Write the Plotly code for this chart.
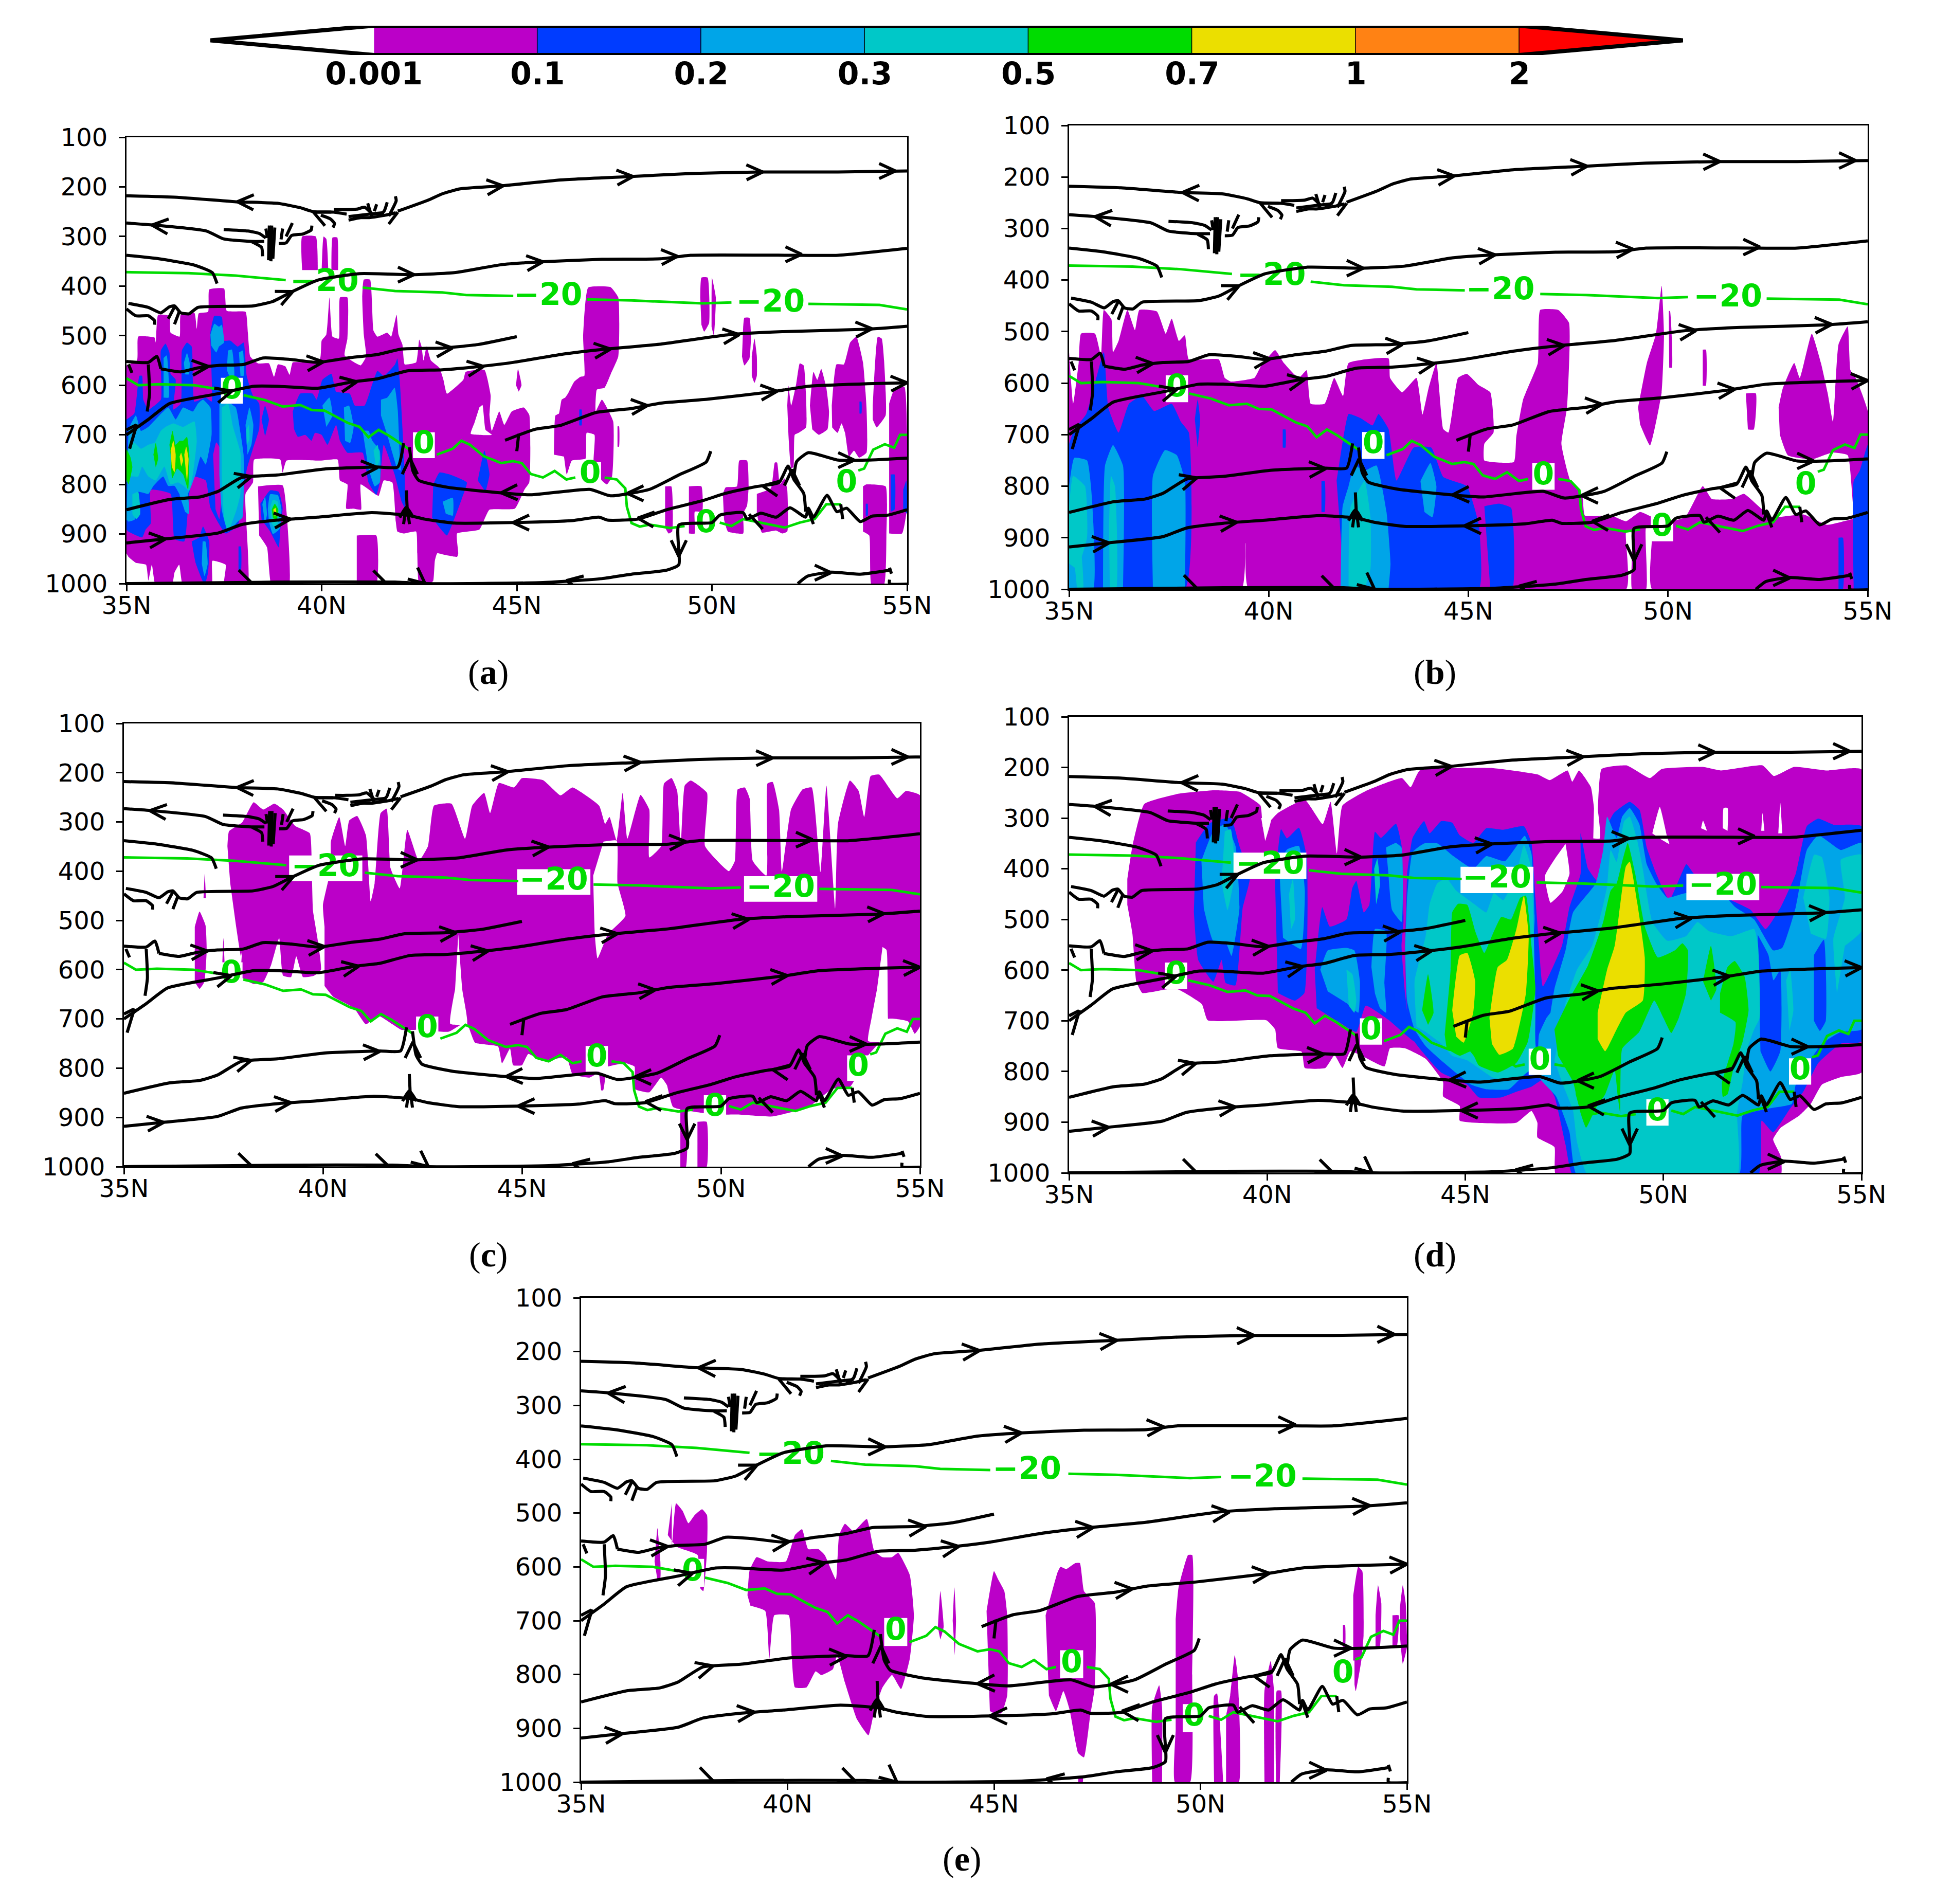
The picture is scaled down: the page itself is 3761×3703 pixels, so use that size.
import math
import plotly.graph_objects as go

# ---------- classes and colour bar ----------
LEVELS = ["0.001", "0.1", "0.2", "0.3", "0.5", "0.7", "1", "2"]
COLORS = ["#BB00C8", "#003CFF", "#00A5E8", "#00C8C8", "#00DC00", "#EBDF00", "#FF8214", "#FF0000"]
LAT_TICKS = [35, 40, 45, 50, 55]
LAT_TEXT = ["35N", "40N", "45N", "50N", "55N"]
P_TICKS = [100, 200, 300, 400, 500, 600, 700, 800, 900, 1000]

# ---------- streamlines (lat, hPa), same in all panels ----------
STREAM = [
 [(41.95,249),(42.72,227),(43.09,214),(43.55,204),(44.6,198),(46.12,186),(47.94,179),(49.45,173),(51.26,170),(53.23,170),(55,168)],
 [(35,218),(36.3,221),(37.8,230),(38.86,233),(39.45,242),(39.79,250),(40.31,251),(40.64,255)],
 [(35,273),(35.7,277),(37.05,289),(37.49,305),(38.2,310),(38.53,310)],
 [(37.49,286),(38.11,289),(38.4,294),(38.57,303)],
 [(38.9,314),(39.09,313),(39.23,298),(39.52,295),(39.73,287),(39.75,278)],
 [(38.64,348),(38.66,278)],[(38.7,350),(38.72,278)],[(38.75,345),(38.8,282)],[(38.49,340),(38.46,322),(38.22,311)],
 [(38.57,284),(38.61,303)],[(39.0,284),(38.96,306)],[(39.25,273),(39.09,300)],
 [(40.31,246),(40.6,246),(40.9,245),(41.1,241),(41.3,255)],
 [(40.69,267),(41.0,262),(41.22,262),(41.64,257),(41.9,252)],[(40.69,260),(41.22,255),(41.6,252)],
 [(41.18,233),(41.29,262)],[(41.41,235),(41.35,249)],[(41.68,231),(41.6,249),(41.43,259)],[(41.89,219),(41.91,228),(41.72,259)],[(41.72,275),(41.95,251)],
 [(39.98,257),(40.23,265),(40.33,274),(40.29,282)],
 [(35,338),(35.83,345),(36.75,358),(37.2,373),(37.32,395)],
 [(35.05,435),(35.56,443),(35.88,454),(36.1,442),(36.23,440),(36.39,454),(36.6,456),(36.83,443),(38.24,440),(38.75,431),(39.2,413),(39.9,388),(40.97,375),(42.34,377),(43.4,373),(44.6,357),(45.67,351),(47.18,346),(48.69,345),(49.45,338),(52.2,338),(53.23,338),(55,324)],
 [(35,446),(35.24,460),(35.56,460),(35.72,470),(35.72,478)],
 [(36.07,466),(36.23,442)],[(36.23,477),(36.36,450)],
 [(35.88,567),(36.39,573),(36.83,565),(37.35,560),(38.0,558),(38.5,545),(39.2,548),(39.9,554),(40.67,545),(41.43,538),(42.05,527),(43.09,525),(44.0,518),(45.0,502)],
 [(35,552),(35.56,554),(35.78,542),(35.88,567)],[(35.56,558),(35.59,617),(35.53,653)],[(35.05,558),(35.14,575)],
 [(35,700),(35.56,669),(36.1,637),(37.35,617),(38.26,602),(38.86,602),(39.9,606),(40.8,593),(41.43,587),(42.2,571),(43.09,569),(44.07,562),(44.9,554),(46.12,538),(47.18,528),(48.69,517),(50.45,498),(51.8,492),(53.99,487),(55,481)],
 [(35.08,728),(35.2,696),(35.27,679)],[(35,690),(35.25,680)],
 [(44.7,711),(45.46,689),(46.12,681),(47.03,655),(47.94,647),(48.69,636),(49.9,628),(51.56,613),(52.47,602),(53.99,597),(55,595)],
 [(45.0,733),(45.05,698)],
 [(35,851),(36.13,830),(36.9,825),(37.35,814),(37.95,786),(38.86,781),(40.07,769),(41.43,765),(41.95,765),(42.1,717)],
 [(42.25,725),(42.34,773),(42.49,792),(43.24,806),(44.6,817),(45.36,821),(46.87,810),(47.4,823),(48.4,810),(49.15,781),(49.85,755),(49.97,733)],
 [(35,918),(35.98,910),(37.35,898),(37.95,881),(38.86,872),(39.9,866),(41.28,857),(42.2,862),(42.64,870),(43.4,878),(44.9,877),(46.42,873),(47.1,866),(47.33,872),(48.1,870),(48.84,851),(49.75,833),(50.35,818),(51.1,805),(51.72,796),(51.95,763),(52.1,790),(52.35,818),(52.4,855)],
 [(42.17,812),(42.2,864)],[(42.0,867),(42.17,846),(42.35,867)],[(42.1,880),(42.15,850)],[(42.25,880),(42.2,850)],
 [(55,747),(53.99,751),(53.23,751),(52.47,736),(52.17,754),(52.1,785)],
 [(35,1000),(38.86,997),(41.88,997),(42.64,1000),(45.67,998),(47.18,990),(47.94,981),(48.84,973),(49.15,962),(49.15,882),(50.0,877),(50.2,862),(50.8,857),(50.9,870),(51.25,858),(51.65,866),(52.0,847),(52.4,866),(52.47,848),(52.6,866),(52.95,822),(53.2,855),(53.45,848),(53.8,875),(54.1,864),(54.5,862),(55,851)],
 [(52.2,1000),(52.45,985),(53.05,977),(53.8,981),(54.55,973)],
 [(54.55,968),(54.6,980)],[(54.55,992),(54.55,1000),(55,1001)],
 [(50.95,860),(51.3,890)],[(53.3,840),(53.35,870)],[(52.45,848),(52.6,880)],
]
# arrow tips: lat, hPa, heading in degrees on the page (0 = east, 90 = up)
ARROWS = [
 (44.65,198,5),(47.98,179,4),(51.3,170,1),(54.7,168,0),(37.84,230,178),(39.79,251,155),(35.65,277,175),
 (39.26,411,25),(42.37,377,0),(45.67,351,5),(49.12,340,3),(52.3,336,0),
 (37.1,562,5),(40.04,553,5),(43.35,525,5),
 (37.7,612,15),(40.9,593,10),(44.15,562,8),(47.4,527,6),(50.7,498,6),(54.1,486,3),
 (48.35,641,5),(51.67,612,5),(55,595,3),(38.2,784,15),(41.43,766,3),
 (44.6,817,182),(47.83,818,180),(42.26,747,90),
 (36.0,910,5),(39.2,870,5),(44.9,877,180),(48.1,868,175),(51.3,803,170),(52.05,770,90),
 (53.65,751,0),(38.2,998,-20),(41.65,999,-20),(42.65,1000,-40),(46.27,994,170),(49.15,945,-90),(53.05,978,0),
]
# isotherms
ISO_M20 = [
 [(35,372),(36.59,374),(37.8,379),(39.08,388)],
 [(41.05,403),(41.88,410),(43.09,413),(43.7,418),(44.91,420)],
 [(46.8,427),(47.94,429),(49.75,435),(50.5,433)],
 [(52.47,436),(54.29,438),(55,447)],
]
ISO_0 = [
 [(35,586),(35.3,600),(35.83,598),(36.74,600),(37.35,608)],
 [(38.0,620),(38.55,630),(39.0,643),(39.45,640),(39.75,650),(40.07,651),(40.67,676),(40.97,684),(41.2,705),(41.46,690),(41.73,702),(42.26,730)],
 [(42.95,740),(43.36,728),(43.58,712),(43.8,720),(44.15,743),(44.6,757),(44.9,753),(45.13,757),(45.36,779),(45.67,786),(45.97,773),(46.27,790),(46.5,786)],
 [(47.25,786),(47.56,790),(47.78,808),(47.82,845),(47.94,878),(48.15,885),(48.4,881),(48.93,888),(49.3,884)],
 [(50.2,877),(50.5,884),(50.8,870),(51.26,877),(51.87,887),(52.25,877),(52.63,870),(52.93,840),(53.3,840)],
 [(53.75,772),(53.9,768),(54.13,730),(54.43,719),(54.67,726),(54.82,700),(55,700)],
]
LABEL_M20 = [(40.07,394),(45.8,422),(51.5,436)]
LABEL_0 = [(37.7,611),(42.62,721),(46.88,781),(49.85,881),(53.45,800)]

# ---------- filled regions per panel: polygons (lat, hPa), one list per class ----------
a_c1 = [
 [(35,560),(35.27,550),(35.3,502),(35.72,504),(35.75,514),(35.81,458),(36.1,460),(36.13,494),(36.36,502),(36.39,458),(36.74,454),(36.8,486),(36.85,455),(37.09,452),(37.12,407),(37.5,405),(37.57,450),(38.05,452),(38.11,494),(38.17,542),(38.37,556),(38.65,556),(38.78,583),(38.88,558),(39.07,562),(39.18,579),(39.26,554),(39.64,554),(39.96,546),(40,510),(40.12,498),(40.2,423),(40.28,502),(40.44,506),(40.47,423),(40.66,423),(40.66,506),(40.59,540),(41.0,560),(41.14,542),(41.08,498),(41.04,423),(41.08,387),(41.24,387),(41.33,490),(41.43,502),(41.68,494),(41.78,502),(41.92,458),(41.97,498),(42.07,518),(42.13,558),(42.42,554),(42.5,508),(42.56,522),(42.61,550),(42.69,522),(42.8,550),(43.02,565),(43.12,589),(43.21,617),(43.63,589),(43.69,573),(44.17,569),(44.33,621),(44.3,661),(44.36,692),(44.55,653),(44.68,680),(44.87,653),(45.18,645),(45.32,660),(45.32,796),(45.2,810),(44.95,849),(44.3,851),(44.04,891),(43.47,899),(43.5,939),(43.47,946),(43.15,942),(42.96,939),(42.9,954),(42.86,994),(42.76,1002),(42.5,1002),(42.45,939),(42.42,895),(42.1,899),(41.94,895),(41.9,875),(41.81,796),(41.59,792),(41.46,823),(41.36,819),(41,800),(41.01,851),(40.82,849),(40.63,849),(40.66,800),(40.47,792),(40.41,750),(39.96,752),(39.1,752),(39,776),(38.94,750),(38.27,750),(38.24,796),(38.05,819),(38.1,1005),(37.5,1005),(37.54,962),(37.2,954),(37.18,1005),(36.45,1005),(36.35,962),(36.23,978),(36.16,1005),(35.75,1005),(35.65,962),(35.56,994),(35.5,962),(35.24,958),(35.05,946),(35,939)],
 [(38.37,804),(39,802),(39.1,855),(39.16,1005),(38.72,1005),(38.6,927),(38.4,903)],
 [(40.9,903),(41.4,903),(41.4,1002),(40.9,1002)],
 [(39.5,368),(39.5,300),(39.85,300),(39.9,368)],[(40,368),(40.05,300),(40.12,305),(40.17,368)],[(40.25,368),(40.28,302),(40.4,302),(40.42,368)],
 [(45.95,740),(45.99,661),(46.08,657),(46.15,629),(46.24,625),(46.31,617),(46.47,593),(46.63,583),(46.73,581),(46.7,502),(46.83,403),(47.4,402),(47.6,423),(47.6,542),(47.41,577),(47.25,605),(47.05,609),(47.02,653),(47.18,629),(47.47,673),(47.44,784),(47.31,800),(47.18,792),(46.97,756),(46.99,700),(46.79,696),(46.76,748),(46.41,752),(46.28,780),(46.21,744)],
 [(44.98,600),(45.03,567),(45.12,600),(45.05,613)],[(47.58,683),(47.62,683),(47.62,724),(47.58,724)],
 [(49.7,423),(49.73,383),(49.89,383),(49.93,474),(49.8,492),(49.73,478)],[(49.99,423),(50,383),(50.1,423),(50.05,500),(49.99,482)],
 [(50.8,482),(50.83,464),(50.96,464),(51,502),(50.96,546),(50.83,560),(50.77,542)],
 [(51.02,542),(51.09,506),(51.15,542),(51.15,581),(51.09,595),(51.02,581)],
 [(51.93,641),(51.96,601),(52.03,641),(52.16,597),(52.25,556),(52.35,560),(52.41,621),(52.41,685),(52.22,696),(52.12,700),(52.09,764),(52.03,768),(51.96,700)],
 [(52.51,641),(52.6,573),(52.7,589),(52.8,567),(52.93,605),(53,653),(52.96,689),(52.74,700),(52.57,689)],
 [(53.07,641),(53.19,558),(53.38,558),(53.54,514),(53.7,502),(53.87,554),(53.96,645),(53.96,736),(53.77,746),(53.64,732),(53.51,744),(53.41,696),(53.32,677),(53.22,696),(53.08,685)],
 [(54.12,641),(54.25,502),(54.35,506),(54.41,550),(54.45,661),(54.22,685),(54.12,669)],
 [(54.54,637),(54.67,609),(54.93,603),(55,700),(55,847),(54.87,899),(54.54,899)],
 [(53.87,804),(53.96,800),(54.45,804),(54.47,899),(54.41,1002),(54.09,1002),(54.03,903),(53.87,895)],
 [(48.8,804),(48.96,804),(48.98,895),(48.89,899),(48.8,887)],
 [(49.41,804),(49.73,804),(49.75,855),(49.56,855),(49.56,899),(49.41,899)],
 [(50.28,819),(50.35,806),(50.64,804),(50.7,752),(50.9,752),(50.94,804),(50.9,843),(50.8,859),(50.8,899),(50.41,895),(50.31,871)],
 [(51.15,819),(51.51,808),(51.61,756),(51.67,756),(51.74,800),(51.86,788),(51.93,811),(51.93,895),(51.8,899),(51.64,893),(51.28,897),(51.15,859)],
]
a_white = [[(44.04,645),(44.12,640),(44.2,690),(44.36,700),(43.82,698),(43.91,677)]]
a_c2 = [
 [(35,669),(35.2,657),(35.33,581),(35.4,581),(35.43,629),(35.56,649),(35.88,629),(35.88,530),(36,516),(36.1,534),(36.13,577),(36.26,589),(36.2,649),(36.39,637),(36.42,530),(36.55,514),(36.67,522),(36.74,633),(37.03,625),(37.18,633),(37.15,494),(37.25,460),(37.44,462),(37.5,510),(37.66,510),(37.85,522),(38,514),(38.08,581),(38.24,621),(38.4,637),(38.4,688),(38.24,728),(38.08,770),(37.92,859),(37.85,883),(37.54,899),(37.15,847),(37.03,792),(36.7,784),(36.6,823),(36.48,915),(36.23,910),(36.13,819),(35.62,811),(35.62,879),(35.49,891),(35.4,907),(35.05,895),(35,891)],
 [(38.46,669),(38.55,641),(38.65,669),(38.55,703)],
 [(36.87,907),(36.96,885),(37.12,915),(37.09,978),(37,1002),(36.77,958),(36.67,915)],
 [(37.87,925),(37.93,925),(37.93,975),(37.87,975)],
 [(39.26,653),(39.45,617),(39.77,617),(39.87,629),(40.02,589),(40.25,577),(40.37,613),(40.72,617),(40.85,641),(41.1,641),(41.3,597),(41.43,571),(41.59,581),(41.88,558),(41.94,546),(42,589),(42.13,780),(42.13,847),(42.05,835),(41.87,780),(41.59,720),(41.49,796),(41.4,821),(41.2,796),(41.05,736),(40.66,736),(40.47,712),(40.37,680),(40.15,720),(40,700),(39.83,696),(39.74,712),(39.58,700),(39.39,704),(39.29,688)],
 [(42.86,800),(43.02,776),(43.28,780),(43.72,796),(43.6,827),(43.41,867),(43.21,903),(43.02,887),(42.83,867)],
 [(44,792),(44.17,732),(44.3,780),(44.2,815)],
 [(38.43,839),(38.68,812),(38.9,815),(39,847),(38.94,891),(38.9,927),(38.68,895),(38.46,871)],
 [(54.58,780),(54.68,780),(54.68,851),(54.58,855)],[(54.9,811),(54.98,792),(55,859),(54.9,851)],
 [(53.94,839),(53.99,839),(53.99,863),(53.94,863)],[(53.78,633),(53.83,633),(53.83,657),(53.78,657)],[(46.6,649),(46.66,649),(46.66,681),(46.6,681)],
]
a_c1b = [[(37.22,740),(37.3,715),(37.42,730),(37.45,800),(37.38,870),(37.28,850)]]
a_c3 = [
 [(35.05,688),(35.24,661),(35.37,692),(35.56,684),(36.07,645),(36.26,669),(36.45,645),(36.7,653),(36.83,637),(36.96,629),(37.15,645),(37.18,700),(37.03,760),(36.9,744),(36.77,780),(36.6,815),(36.45,831),(36.23,803),(36.07,803),(35.94,784),(35.69,803),(35.56,819),(35.3,815),(35.21,871),(35.05,875),(35,871)],
 [(36.36,822),(36.55,810),(36.6,860),(36.5,855)],
 [(37.38,637),(37.55,632),(37.8,645),(37.92,696),(38,740),(37.97,867),(37.85,875),(37.6,895),(37.44,851),(37.38,780)],
 [(37.15,498),(37.25,476),(37.37,482),(37.44,478),(37.5,514),(37.37,522),(37.3,534),(37.17,520)],
 [(37.6,530),(37.7,528),(37.76,581),(37.66,585),(37.57,569)],[(37.88,534),(37.98,530),(38,581),(37.92,581)],
 [(38.05,680),(38.15,645),(38.25,680),(38.2,720),(38.1,740)],
 [(35.95,545),(36.03,540),(36.08,625),(35.95,625)],[(36.47,555),(36.55,535),(36.62,555),(36.6,578),(36.5,578)],
 [(36.95,915),(37.02,915),(37.08,960),(37,985),(36.93,960)],
 [(40.02,641),(40.2,625),(40.28,661),(40.12,684)],[(40.57,645),(40.7,641),(40.82,684),(40.73,716),(40.6,712)],
 [(41.52,629),(41.68,625),(41.87,605),(41.95,650),(42,740),(42.03,772),(41.94,768),(41.68,700),(41.52,661)],
 [(41.05,692),(41.2,692),(41.3,712),(41.49,732),(41.49,796),(41.36,804),(41.2,768)],
 [(43.1,835),(43.36,827),(43.36,863),(43.18,859)],
 [(38.62,850),(38.68,820),(38.88,822),(38.97,850),(38.92,890),(38.75,900),(38.65,875)],[(38.48,840),(38.55,825),(38.6,860),(38.55,880)],
]
a_c4 = [
 [(35.05,724),(35.2,716),(35.37,728),(35.56,720),(35.72,716),(35.88,692),(36,684),(36.2,677),(36.45,684),(36.74,673),(36.8,712),(36.7,780),(36.6,813),(36.48,804),(36.32,796),(36.13,800),(35.97,764),(35.75,792),(35.56,784),(35.4,764),(35.3,784),(35.11,784),(35,796)],
 [(35.15,820),(35.3,815),(35.35,860),(35.25,870),(35.15,860)],
 [(37.44,645),(37.6,637),(37.73,684),(37.92,736),(37.92,819),(37.82,851),(37.6,895),(37.5,867),(37.44,780)],
 [(38.07,690),(38.13,680),(38.15,710),(38.08,720)],
 [(41.33,732),(41.43,720),(41.49,748),(41.4,768)],
 [(38.68,847),(38.75,831),(38.88,835),(38.9,867),(38.84,891),(38.72,879)],
]
a_c5 = [
 [(35,728),(35.1,745),(35.15,765),(35.05,800),(35,790)],[(35.69,740),(35.75,716),(35.81,748),(35.75,766)],
 [(36.1,720),(36.18,692),(36.26,720),(36.36,712),(36.45,712),(36.55,704),(36.61,740),(36.58,811),(36.45,780),(36.3,768),(36.17,788),(36.13,740)],
 [(38.72,851),(38.8,839),(38.89,851),(38.84,875),(38.75,867)],
]
a_c6 = [[(36.13,732),(36.2,712),(36.26,740),(36.23,776),(36.16,764)],[(36.36,744),(36.4,736),(36.45,752),(36.4,764)],[(36.48,740),(36.53,724),(36.59,748),(36.55,796)],[(38.76,851),(38.82,847),(38.84,859),(38.8,865)]]

b_c1 = [
 [(35,540),(35.1,640),(35.24,561),(35.3,504),(35.65,504),(35.8,547),(35.87,458),(36.06,476),(36.1,540),(36.24,518),(36.46,458),(36.65,497),(36.76,458),(37.2,461),(37.42,504),(37.57,475),(37.75,518),(37.9,507),(38.0,554),(38.75,554),(38.9,590),(39.05,597),(39.64,590),(39.8,568),(40.16,536),(40.38,561),(40.75,590),(40.95,575),(41.05,640),(41.4,640),(41.64,590),(41.86,625),(42,561),(43,552),(43.04,590),(43.34,618),(43.7,590),(43.85,661),(44,611),(44.2,561),(44.37,689),(44.5,696),(44.74,590),(44.96,582),(45.26,604),(45.55,618),(45.63,696),(45.4,718),(45.4,750),(46.14,753),(46.2,704),(46.37,632),(46.74,561),(46.8,458),(47.25,458),(47.52,483),(47.47,647),(47.33,718),(47.55,789),(47.85,818),(47.92,857),(48.58,857),(48.95,868),(49.3,850),(49.9,870),(50.43,860),(50.87,800),(51.1,825),(51.6,825),(51.9,815),(52.6,860),(53.4,855),(53.98,875),(55,860),(55,1000),(49.6,1000),(49.6,880),(49.45,880),(49.45,1000),(49.1,1000),(49.1,890),(48.95,890),(48.95,1000),(39.5,1000),(39.42,910),(39.32,1000),(35,1000)],
 [(49.25,647),(49.47,561),(49.7,504),(49.84,411),(49.9,504),(49.84,618),(49.55,721),(49.3,680)],
 [(50.02,460),(50.05,460),(50.1,570),(50.03,570)],[(50.87,535),(50.95,535),(50.95,605),(50.87,605)],[(51.95,620),(52.2,620),(52.15,690),(52,690)],
 [(52.77,647),(52.87,611),(53.16,561),(53.3,590),(53.6,504),(53.83,561),(54.0,620),(54.13,675),(54.27,525),(54.5,490),(54.57,575),(54.7,590),(55,654),(55,870),(54.7,870),(54.5,740),(54.1,735),(53.6,748),(53,740),(52.8,700)],
]
b_c2 = [
 [(35,718),(35.13,690),(35.43,660),(35.87,540),(35.98,647),(36.24,696),(36.5,640),(36.83,625),(37.13,654),(37.57,640),(37.8,675),(38,696),(37.9,1000),(35,1000)],
 [(38.15,670),(38.22,632),(38.28,670),(38.22,725)],[(40.35,690),(40.42,690),(40.42,725),(40.35,725)],[(41.32,790),(41.4,790),(41.4,850),(41.32,850)],
 [(41.7,789),(41.89,696),(42,660),(42.3,668),(42.6,682),(42.75,660),(43,689),(43.2,789),(43.63,725),(44.07,725),(44.37,782),(44.96,800),(45.26,875),(45.26,1000),(41.9,1000)],
 [(45.4,839),(45.78,834),(46.07,842),(46.1,1000),(45.55,1000)],
 [(54.65,1000),(54.65,790),(54.8,770),(55,720),(55,1000)],[(54.27,900),(54.38,900),(54.38,1000),(54.27,1000)],
]
b_c3 = [
 [(35,800),(35.13,745),(35.45,750),(35.57,820),(35.6,1000),(35,1000)],
 [(35.85,1000),(35.9,760),(36.1,720),(36.35,760),(36.35,1000)],
 [(37.1,1000),(37.1,780),(37.4,730),(37.7,740),(37.9,790),(37.9,1000)],
 [(41.8,1000),(41.85,840),(42.0,800),(42.15,760),(42.4,770),(42.7,760),(42.95,850),(43.05,950),(43,1000)],
 [(43.8,790),(44.05,755),(44.2,800),(44.1,860),(43.9,850)],
]
b_c4 = [
 [(35,840),(35.1,780),(35.4,800),(35.45,900),(35.2,960),(35,950)],
 [(35.15,960),(35.3,930),(35.35,1000),(35.2,1000)],
 [(42,1000),(42.05,840),(42.4,790),(42.55,860),(42.55,960),(42.4,1000)],
 [(36.0,880),(36.05,780),(36.15,800),(36.18,1000),(36.02,1000)],
]

c_c1 = [
 [(36.78,513),(36.9,482),(37.05,510),(37.08,560),(37.02,625),(36.9,639),(36.78,625)],
 [(37.0,455),(37.03,405),(37.06,455)],[(37.47,590),(37.5,536),(37.53,590)],
 [(37.6,349),(37.64,319),(37.97,301),(38.26,260),(38.5,275),(38.78,263),(39.0,275),(39.3,308),(39.67,323),(39.72,400),(39.75,480),(39.85,530),(39.95,600),(39.78,612),(39.5,615),(39.33,573),(39.2,615),(39.0,612),(38.9,536),(38.7,590),(38.5,625),(38.26,629),(37.95,615),(37.97,560),(37.94,573),(37.82,513),(37.67,424)],
 [(40.04,513),(40.0,469),(40.2,394),(40.2,340),(40.41,290),(40.56,349),(40.66,297),(40.86,288),(41.08,327),(41.2,461),(41.3,424),(41.45,282),(41.6,273),(41.7,394),(41.93,435),(42.12,316),(42.41,379),(42.64,349),(42.79,267),(43.23,263),(43.57,334),(43.75,267),(44.05,241),(44.2,282),(44.42,221),(44.8,230),(45.0,211),(45.53,215),(45.97,246),(46.27,230),(46.94,267),(47.09,304),(47.2,290),(47.38,338),(47.53,241),(47.65,334),(47.98,245),(48.2,275),(48.2,372),(48.5,349),(48.57,222),(48.76,211),(48.9,237),(48.99,349),(49.09,226),(49.24,216),(49.65,241),(49.6,349),(50.2,400),(50.35,379),(50.42,234),(50.6,230),(50.72,252),(50.8,379),(51.14,409),(51.17,222),(51.3,219),(51.46,275),(51.53,401),(51.76,275),(52.05,234),(52.28,230),(52.5,402),(52.65,226),(52.87,476),(52.94,304),(53.24,216),(53.46,237),(53.6,290),(53.76,207),(53.98,204),(54.43,252),(54.65,237),(55,246),(55,715),(54.87,730),(54.7,705),(54.2,700),(54.0,745),(53.69,775),(53.24,838),(52.8,842),(52.2,879),(51.3,898),(50.42,894),(49.83,894),(48.8,879),(48.64,834),(48.5,819),(48.2,849),(47.83,842),(47.83,797),(47.6,790),(47.16,797),(46.7,819),(46.27,812),(46.12,778),(45.53,786),(45.16,771),(45,794),(44.78,794),(44.7,760),(44.5,790),(44.4,756),(43.82,748),(43.6,707),(43.16,726),(42.4,722),(41.97,722),(41.38,693),(41.08,711),(40.78,678),(40.26,655),(40.04,633)],
 [(48.98,872),(49.12,872),(49.12,1000),(48.98,1000)],[(49.41,909),(49.64,909),(49.64,1000),(49.41,1000)],
 [(46.94,812),(47.09,812),(47.04,845),(46.99,845)],
]
c_white = [
 [(43.4,528),(43.5,640),(43.62,710),(43.2,710),(43.32,640)],
 [(47.05,340),(47.38,338),(47.4,424),(47.6,491),(47.16,528),(46.9,577),(46.83,528),(46.79,409)],
 [(54.06,554),(54.16,560),(54.2,700),(54.3,745),(53.7,745),(53.78,700),(53.92,640)],
]

d_c1 = [[(36.47,420),(36.6,355),(36.9,272),(37.75,252),(38.65,245),(39.3,248),(39.83,275),(39.9,319),(40.27,290),(40.95,264),(41.4,312),(41.6,268),(41.76,370),(41.9,275),(42.5,246),(43.4,221),(43.62,239),(43.85,206),(45.64,201),(46.83,214),(47.13,225),(47.58,206),(47.7,228),(47.87,206),(48.17,239),(48.32,319),(48.44,203),(49.07,196),(49.66,221),(49.96,203),(51.0,199),(51.45,206),(52.5,196),(52.79,217),(53.3,199),(54.13,206),(55,204),(55,802),(54.48,811),(54,826),(53.72,864),(53.43,887),(52.96,911),(52.77,934),(52.96,967),(52.96,1005),(47.29,1005),(47.25,949),(46.82,930),(46.82,901),(46.67,878),(46.29,901),(44.86,897),(44.86,868),(44.44,849),(44.44,821),(44.0,775),(43.47,754),(43.1,754),(42.96,790),(42.36,768),(42.1,760),(41.9,793),(41.7,768),(41.47,793),(40.95,793),(40.87,761),(40.27,754),(40.2,717),(39.98,699),(38.5,699),(38.35,667),(37.75,638),(37.45,638),(36.85,645),(36.7,623),(36.6,529),(36.47,471)]]
d_white = [
 [(47.53,351),(47.63,410),(47.45,445),(47.15,467),(47.01,414),(47.29,377)],
 [(48.25,275),(48.32,275),(48.4,340),(48.23,340)],[(49.72,330),(49.91,278),(50.1,339),(50.15,351),(49.9,340)],
 [(51.5,320),(51.52,280),(51.62,280),(51.62,325)],[(50.95,320),(51,305),(51.1,325)],[(52.47,325),(52.5,290),(52.55,325)],[(52.9,330),(52.95,270),(53,330)],
 [(39.85,300),(40.1,300),(39.95,345)],
]
d_c2 = [
 [(38.2,348),(38.55,310),(39.08,300),(39.3,355),(39.56,420),(39.38,478),(39.2,630),(38.95,625),(38.85,580),(38.64,623),(38.26,580),(38.15,485)],
 [(40.2,427),(40.35,322),(40.5,340),(40.8,319),(41.0,377),(40.94,645),(40.7,660),(40.27,645)],
 [(41.2,599),(41.39,476),(41.58,514),(42,500),(42.15,438),(42.25,424),(42.44,486),(42.58,471),(42.72,327),(42.87,339),(43.25,311),(43.39,353),(43.44,505),(43.39,552),(43.48,646),(43.53,679),(43.72,741),(43.06,698),(42.49,670),(42.25,722),(41.82,703),(41.25,675)],
 [(43.53,410),(43.67,339),(43.96,306),(44.1,330),(44.39,306),(44.67,309),(44.86,334),(45.2,349),(45.53,320),(45.96,323),(46.48,316),(46.67,349),(46.77,457),(46.86,552),(46.96,632),(47.44,552),(47.63,476),(47.91,410),(47.91,330),(48.1,400),(48.39,429),(48.58,316),(48.75,290),(49.15,268),(49.4,284),(49.58,358),(49.82,410),(50.15,462),(50.58,391),(50.77,410),(51.34,448),(52.2,481),(52.58,519),(52.96,476),(53.34,410),(53.62,316),(53.91,301),(54.29,313),(55,316),(55,741),(54.48,745),(53.91,783),(53.53,840),(53.2,873),(52.77,920),(52.48,897),(52.39,1005),(47.72,1005),(47.53,944),(47.25,849),(46.96,816),(46.67,830),(46.29,840),(45.91,851),(45.34,851),(45.05,826),(44.39,802),(43.72,741),(43.53,679),(43.48,552)],
]
d_c3 = [
 [(38.34,384),(38.64,326),(38.94,312),(39.2,355),(39.3,478),(39.1,572),(38.95,545),(38.64,543),(38.4,478)],
 [(40.3,391),(40.5,362),(40.8,355),(40.95,442),(40.85,558),(40.4,536)],
 [(41.34,599),(41.53,561),(42,556),(42.2,561),(42.34,622),(42.3,684),(42,665),(41.53,642)],
 [(42.63,594),(42.72,519),(43,523),(42.96,627),(43,684),(42.85,675),(42.72,646)],
 [(43,358),(43.25,349),(43.39,358),(43.39,505),(43.15,481),(43.06,410)],
 [(43.53,457),(43.67,367),(43.96,350),(44.3,350),(44.7,375),(45.2,400),(45.53,375),(46.0,385),(46.5,335),(46.67,370),(46.75,500),(46.67,599),(46.77,788),(46.48,807),(46.1,835),(45.53,835),(45.15,826),(44.39,778),(44,750),(43.72,717),(43.53,660),(43.48,552)],
 [(47.15,684),(47.25,637),(47.53,561),(47.72,486),(48.29,429),(48.48,363),(48.58,297),(48.82,339),(48.96,297),(49.15,280),(49.39,311),(49.58,391),(49.82,429),(50.1,457),(50.57,448),(50.96,457),(51.24,429),(51.82,476),(52.29,500),(52.77,561),(53,556),(53.34,476),(53.62,363),(53.91,334),(54.48,363),(55,349),(55,717),(54.48,722),(54,745),(53.62,788),(53.34,826),(53.24,864),(52.67,873),(52,887),(51.9,1005),(47.82,1005),(47.63,920),(47.29,849),(46.86,811),(46.86,727),(47.05,694)],
]
d_c2b = [
 [(52.38,530),(52.65,570),(52.78,620),(52.95,600),(52.95,760),(52.7,800),(52.45,760)],
 [(53.8,570),(54.05,540),(54.1,700),(53.95,720),(53.8,700)],
]
d_c4 = [
 [(43.77,712),(43.72,622),(44,533),(44.1,470),(44.29,429),(44.53,419),(44.77,443),(45.25,471),(45.53,486),(45.72,448),(45.96,462),(46.29,410),(46.48,353),(46.67,400),(46.72,505),(46.77,669),(46.72,788),(46.48,807),(46.2,818),(45.7,812),(45.05,778),(44.67,769),(44.39,745),(44,722)],
 [(47.53,665),(47.82,599),(48.2,552),(48.48,471),(48.58,434),(48.67,363),(48.82,386),(49.01,306),(49.15,297),(49.34,344),(49.48,400),(49.72,505),(50.1,542),(50.57,533),(50.86,505),(51.15,523),(51.72,533),(52.29,519),(52.39,552),(52.43,694),(52.29,717),(52.1,760),(52,821),(51.86,882),(51.86,1005),(48.1,1005),(47.82,939),(47.72,878),(47.44,821),(47.25,778)],
 [(53.53,457),(53.81,372),(54,377),(54.19,457),(54.1,538),(53.72,528)],
 [(54.38,646),(54.29,538),(54.58,457),(54.48,382),(55,372),(55,523),(54.58,552)],
 [(38.93,326),(39.08,322),(39.19,406),(39,482),(38.85,427)],
 [(42,599),(42.15,608),(42.25,660),(42.2,684),(42.06,670)],
 [(42.7,400),(42.78,380),(42.85,430),(42.75,470)],
 [(40.55,450),(40.65,420),(40.7,500),(40.6,520)],
 [(53.1,620),(53.2,600),(53.28,680),(53.18,720)],
]
d_c5 = [
 [(44.48,727),(44.63,599),(44.67,486),(44.82,469),(45.05,471),(45.25,523),(45.48,566),(45.67,533),(45.91,495),(46.15,500),(46.39,457),(46.53,453),(46.67,552),(46.77,637),(46.58,741),(46.29,783),(45.82,802),(45.34,788),(45.15,760),(44.86,769),(44.53,755)],
 [(43.91,679),(44.06,608),(44.2,684),(44.06,708)],
 [(47.25,717),(47.63,656),(48.1,590),(48.48,505),(48.67,443),(48.82,429),(48.96,386),(49.1,349),(49.29,410),(49.53,514),(49.86,575),(50.29,561),(50.48,547),(50.62,561),(50.57,646),(50.39,694),(50.2,724),(50,694),(49.77,660),(49.39,722),(48.96,755),(48.91,882),(48.85,850),(48.77,797),(48.53,845),(48.29,873),(48.05,911),(47.91,882),(47.72,821),(47.34,769)],
 [(51,622),(51.2,552),(51.34,637),(51.2,660)],
 [(51.43,646),(51.62,594),(51.8,582),(52.05,613),(52.15,679),(52,741),(51.77,793),(51.62,845),(51.5,850),(51.48,821),(51.77,745),(51.82,703),(51.43,684)],
]
d_c6 = [
 [(44.67,679),(44.86,571),(45.05,566),(45.25,622),(45.2,684),(44.96,743),(44.77,731)],
 [(45.61,694),(45.82,594),(46.05,580),(46.29,519),(46.48,453),(46.6,533),(46.53,646),(46.2,755),(45.86,767),(45.67,745)],
 [(48.34,684),(48.58,599),(48.77,552),(49.05,396),(49.15,386),(49.34,467),(49.53,575),(49.48,660),(49.05,684),(48.82,717),(48.53,760),(48.34,736)],
]

e_c1 = [
 [(36.78,590),(36.85,528),(36.92,590),(36.92,620),(36.85,625)],
 [(37.2,482),(37.2,563),(37.3,482),(37.46,496),(37.6,519),(37.75,504),(37.93,493),(38.05,504),(38.05,570),(37.96,645),(37.89,640),(37.82,578),(37.32,563),(37.1,541)],
 [(39.03,653),(39.08,607),(39.25,582),(39.53,590),(39.96,590),(40.18,541),(40.35,530),(40.5,567),(40.75,567),(40.9,578),(41.17,623),(41.25,541),(41.39,520),(41.6,534),(41.92,511),(42.1,570),(42.3,582),(42.53,582),(42.68,574),(42.96,615),(43.06,690),(42.96,771),(42.75,827),(42.53,801),(42.3,824),(42.1,868),(41.96,913),(41.68,883),(41.39,815),(41.2,764),(41.1,790),(40.82,801),(40.68,794),(40.46,824),(40.18,824),(40.1,764),(40.03,690),(39.68,690),(39.56,771),(39.46,682),(39.1,672)],
 [(43.64,712),(43.7,645),(43.78,712),(43.7,735)],[(44,700),(44.04,638),(44.08,700),(44.05,764)],
 [(44.82,682),(45,608),(45.1,623),(45.25,645),(45.32,690),(45.32,839),(45.18,872),(45,872),(44.9,868)],
 [(46.25,690),(46.54,610),(46.61,600),(46.75,604),(46.97,593),(47.08,593),(47.18,645),(47.44,667),(47.44,824),(47.33,876),(47.18,954),(47.04,946),(46.83,865),(46.68,831),(46.5,868),(46.33,839)],
 [(47.04,990),(47.15,990),(47.15,1000),(47.04,1000)],
 [(49.4,697),(49.47,638),(49.7,578),(49.8,578),(49.8,801),(49.75,1000),(49.38,1000),(49.4,905)],
 [(48.83,1000),(48.83,860),(49,820),(49.07,860),(49.07,1000)],
 [(50.33,1000),(50.33,840),(50.4,835),(50.55,1000)],
 [(50.62,876),(50.72,839),(50.83,764),(50.9,801),(50.93,1000),(50.62,1000)],
 [(51.55,1000),(51.55,830),(51.7,775),(51.78,830),(51.78,1000)],
 [(51.83,1000),(51.85,830),(51.95,830),(51.92,1000)],
 [(53.7,653),(53.82,600),(53.92,608),(53.95,727),(53.9,772),(53.76,831),(53.7,801)],
 [(53.45,708),(53.5,708),(53.5,750),(53.45,750)],
 [(54.24,690),(54.3,634),(54.38,667),(54.34,750),(54.24,750)],
 [(54.65,690),(54.8,690),(54.75,750),(54.65,750)],
 [(54.83,676),(54.9,634),(54.97,667),(55,750),(54.9,780),(54.83,727)],
]

PANEL_LAYERS = [
 [(COLORS[0],a_c1),("#FFFFFF",a_white),(COLORS[1],a_c2),(COLORS[0],a_c1b),(COLORS[2],a_c3),(COLORS[3],a_c4),(COLORS[4],a_c5),(COLORS[5],a_c6)],
 [(COLORS[0],b_c1),(COLORS[1],b_c2),(COLORS[2],b_c3),(COLORS[3],b_c4)],
 [(COLORS[0],c_c1),("#FFFFFF",c_white)],
 [(COLORS[0],d_c1),("#FFFFFF",d_white),(COLORS[1],d_c2),(COLORS[2],d_c3),(COLORS[1],d_c2b),(COLORS[3],d_c4),(COLORS[4],d_c5),(COLORS[5],d_c6)],
 [(COLORS[0],e_c1)],
]
# pixel frames of the panels: left, right, top, bottom
FRAMES = [(246,1764,267,1135),(2079,3632,244,1146),(241,1789,1407,2269),(2079,3620,1394,2281),(1130,2736,2524,3466)]
CAPTIONS = ["a","b","c","d","e"]
CAPTION_POS = [(950,1307),(2790,1307),(950,2440),(2790,2440),(1871,3615)]
W, H = 3761, 3703
FONT = "DejaVu Sans"
GREEN = "#00DC00"

fig = go.Figure()

def seq(lines):
    xs, ys = [], []
    for ln in lines:
        xs += [q[0] for q in ln] + [None]
        ys += [q[1] for q in ln] + [None]
    return xs, ys

def chevrons():
    out = []
    for lat, p, ang in ARROWS:
        a = math.radians(ang)
        ux, uy = math.cos(a), -math.sin(a)      # page px, y down
        nx, ny = -uy, ux
        back, side = 32, 15
        k_lat, k_p = 20 / 1540, 900 / 890
        l = (lat + (-back*ux + side*nx)*k_lat, p + (-back*uy + side*ny)*k_p)
        r = (lat + (-back*ux - side*nx)*k_lat, p + (-back*uy - side*ny)*k_p)
        out.append([l, (lat, p), r])
    return out

TICKFONT = dict(family=FONT, size=48, color="black")
for i, (fr, layers) in enumerate(zip(FRAMES, PANEL_LAYERS)):
    n = "" if i == 0 else str(i + 1)
    L, R, T, B = fr
    common = dict(ticks="outside", ticklen=12, tickwidth=3, tickcolor="black", showgrid=False, zeroline=False,
                  showline=True, linecolor="black", linewidth=3, mirror=True, automargin=False, tickfont=TICKFONT)
    fig.update_layout({
        f"xaxis{n}": dict(domain=[L/W, R/W], range=[35, 55], anchor=f"y{n}", tickvals=LAT_TICKS, ticktext=LAT_TEXT,
                          ticklabelstandoff=-14, **common),
        f"yaxis{n}": dict(domain=[1-B/H, 1-T/H], range=[1000, 100], anchor=f"x{n}", tickvals=P_TICKS,
                          ticklabelstandoff=12, **common),
    })
    ax = dict(xaxis=f"x{n}", yaxis=f"y{n}", showlegend=False, hoverinfo="skip")
    for col, polys in layers:
        for poly in polys:
            fig.add_trace(go.Scatter(x=[q[0] for q in poly], y=[q[1] for q in poly], mode="lines", fill="toself",
                                     fillcolor=col, line=dict(width=0, color=col, shape="spline", smoothing=0.4), **ax))
    # white label boxes
    for (la, pr) in LABEL_M20:
        fig.add_trace(go.Scatter(x=[la-.92, la+.92, la+.92, la-.92], y=[pr-26, pr-26, pr+26, pr+26], mode="lines",
                                 fill="toself", fillcolor="white", line=dict(width=0, color="white"), **ax))
    for (la, pr) in LABEL_0:
        fig.add_trace(go.Scatter(x=[la-.28, la+.28, la+.28, la-.28], y=[pr-26, pr-26, pr+26, pr+26], mode="lines",
                                 fill="toself", fillcolor="white", line=dict(width=0, color="white"), **ax))
    gx, gy = seq(ISO_M20 + ISO_0)
    fig.add_trace(go.Scatter(x=gx, y=gy, mode="lines", line=dict(color=GREEN, width=5), **ax))
    fig.add_trace(go.Scatter(x=[q[0] for q in LABEL_M20], y=[q[1] for q in LABEL_M20], mode="text", text=["−20"]*3,
                             textposition="middle center", textfont=dict(family=FONT, size=60, color=GREEN, weight=700), **ax))
    fig.add_trace(go.Scatter(x=[q[0] for q in LABEL_0], y=[q[1] for q in LABEL_0], mode="text", text=["0"]*5,
                             textposition="middle center", textfont=dict(family=FONT, size=60, color=GREEN, weight=700), **ax))
    bx, by = seq(STREAM)
    fig.add_trace(go.Scatter(x=bx, y=by, mode="lines", line=dict(color="black", width=6, shape="spline", smoothing=0.5), **ax))
    bx, by = seq(chevrons())
    fig.add_trace(go.Scatter(x=bx, y=by, mode="lines", line=dict(color="black", width=6), **ax))
    cx, cy = CAPTION_POS[i]
    fig.add_annotation(xref="paper", yref="paper", x=cx/W, y=1-cy/H, showarrow=False, xanchor="center", yanchor="middle",
                       text=f"(<b>{CAPTIONS[i]}</b>)", font=dict(family="Liberation Serif", size=68, color="black"))

# colour bar on its own axes, one cell per unit; tips are the open-ended classes
cb = dict(xaxis="x6", yaxis="y6", showlegend=False, hoverinfo="skip")
fig.update_layout(
    xaxis6=dict(domain=[409/W, 3273/W], range=[-1, 8], anchor="y6", tickvals=list(range(8)), ticktext=LEVELS, ticks="",
                showgrid=False, zeroline=False, showline=False, automargin=False, ticklabelstandoff=-4,
                tickfont=dict(family=FONT, size=60, color="black", weight=700)),
    yaxis6=dict(domain=[1-107/H, 1-50/H], range=[0, 1], anchor="x6", visible=False, automargin=False),
)
for k in range(7):
    fig.add_trace(go.Scatter(x=[k, k+1, k+1, k], y=[0, 0, 1, 1], mode="lines", fill="toself", fillcolor=COLORS[k],
                             line=dict(color="black", width=3), **cb))
fig.add_trace(go.Scatter(x=[0, -1, 0], y=[0, .5, 1], mode="lines", fill="toself", fillcolor="white",
                         line=dict(color="black", width=3), **cb))
fig.add_trace(go.Scatter(x=[7, 8, 7], y=[0, .5, 1], mode="lines", fill="toself", fillcolor=COLORS[7],
                         line=dict(color="black", width=3), **cb))
fig.add_trace(go.Scatter(x=[0, -1, 0, 7, 8, 7, 0], y=[0, .5, 1, 1, .5, 0, 0], mode="lines", cliponaxis=False,
                         line=dict(color="black", width=8), **cb))

fig.update_layout(width=W, height=H, autosize=False, margin=dict(l=0, r=0, t=0, b=0),
                  paper_bgcolor="white", plot_bgcolor="white")
fig.write_html("out.html", config={"displayModeBar": False}, post_script="document.body.style.margin='0';")
